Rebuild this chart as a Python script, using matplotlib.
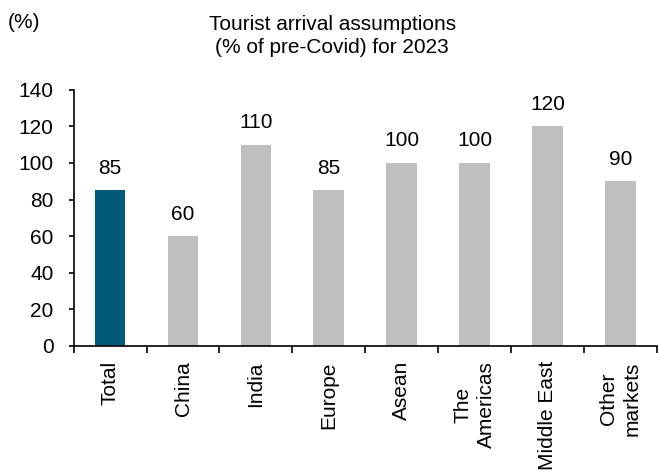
import numpy as np
import matplotlib.pyplot as plt

plt.rcParams['font.family'] = ['Liberation Sans', 'DejaVu Sans']

categories = ['Total', 'China', 'India', 'Europe', 'Asean', 'The\nAmericas', 'Middle East', 'Other\nmarkets']
values = [85, 60, 110, 85, 100, 100, 120, 90]
colors = ['#005A78'] + ['#BFBFBF'] * 7

fig = plt.figure(figsize=(6.58, 4.70), dpi=100)
ax = fig.add_axes([0.112, 0.264, 0.886, 0.545])

x = np.arange(len(categories))
bars = ax.bar(x, values, width=0.42, color=colors)
for xi, v in zip(x, values):
    ax.annotate(str(v), (xi, v), xytext=(0, 9), textcoords='offset points',
                ha='center', va='bottom', fontsize=15)

ax.set_xlim(-0.5, len(categories) - 0.5)
ax.set_ylim(0, 140)
ax.set_yticks(np.arange(0, 141, 20))
ax.tick_params(axis='y', labelsize=15, direction='out', length=3.5, width=1.2, pad=11)
ax.set_xticks(x)
ax.set_xticklabels(categories, rotation=90, fontsize=15, ha='center', va='top',
                   linespacing=1.3)
ax.tick_params(axis='x', which='major', length=0, pad=11)
ax.set_xticks(np.arange(-0.5, len(categories) - 0.4, 1), minor=True)
ax.tick_params(axis='x', which='minor', length=5, width=1.2, direction='out')

for s in ['top', 'right']:
    ax.spines[s].set_visible(False)
for s in ['left', 'bottom']:
    ax.spines[s].set_linewidth(1.2)

fig.text(0.505, 0.968, 'Tourist arrival assumptions\n(% of pre-Covid) for 2023',
         ha='center', va='top', fontsize=15, linespacing=1.25)
fig.text(0.012, 0.972, '(%)', ha='left', va='top', fontsize=15)

fig.savefig('out.png', dpi=100)
